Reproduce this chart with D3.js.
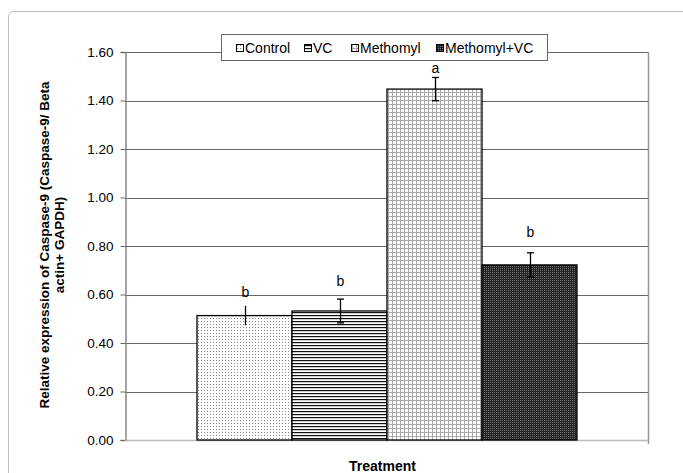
<!DOCTYPE html>
<html><head><meta charset="utf-8">
<script src="https://cdn.jsdelivr.net/npm/d3@7"></script>
<style>
body{margin:0;background:#fff;}
text{font-family:"Liberation Sans",Arial,sans-serif;}
</style></head>
<body>
<svg id="c" width="683" height="473"></svg>
<script>
const series = ["Control","VC","Methomyl","Methomyl+VC"];
const values = [0.513, 0.532, 1.447, 0.722];
const errors = [0.04, 0.049, 0.048, 0.05];
const letters = ["b","b","a","b"];
const letterAt = [0.59, 0.635, 1.513, 0.837];
const yTicks = [0,0.2,0.4,0.6,0.8,1.0,1.2,1.4,1.6];
const xTitle = "Treatment";
const yTitleLines = ["Relative expression of Caspase-9 (Caspase-9/ Beta","actin+ GAPDH)"];

const svg = d3.select("#c");
const defs = svg.append("defs");

// patterns
function pat(id,w,h){return defs.append("pattern").attr("id",id).attr("patternUnits","userSpaceOnUse").attr("width",w).attr("height",h);}
let p = pat("p0",3,3); p.append("rect").attr("width",3).attr("height",3).attr("fill","#fff");
p.append("rect").attr("x",0).attr("y",0).attr("width",1).attr("height",1).attr("fill","#888");
p = pat("p1",3,3); p.append("rect").attr("width",3).attr("height",3).attr("fill","#fff");
p.append("rect").attr("x",0).attr("y",0).attr("width",3).attr("height",1.2).attr("fill","#111");
p = pat("p2",4,4); p.append("rect").attr("width",4).attr("height",4).attr("fill","#fff");
p.append("rect").attr("x",0).attr("y",0).attr("width",4).attr("height",1).attr("fill","#aaa");
p.append("rect").attr("x",0).attr("y",0).attr("width",1).attr("height",4).attr("fill","#aaa");
p = pat("p3",2,2); p.append("rect").attr("width",2).attr("height",2).attr("fill","#222");
p.append("rect").attr("x",0).attr("y",0).attr("width",1).attr("height",1).attr("fill","#777");
const fills = ["url(#p0)","url(#p1)","url(#p2)","url(#p3)"];

// outer frame
svg.append("rect").attr("x",8.5).attr("y",11.5).attr("width",700).attr("height",500).attr("rx",5)
  .attr("fill","none").attr("stroke","#bbb");

const L=125, R=648, T=52, B=440;
const y = d3.scaleLinear().domain([0,1.6]).range([B,T]);
const x = d3.scaleBand().domain(series).range([197,577]).padding(0);

// gridlines
svg.append("g").selectAll("line").data(yTicks.slice(1)).join("line")
  .attr("x1",L).attr("x2",R).attr("y1",d=>Math.round(y(d))+0.5).attr("y2",d=>Math.round(y(d))+0.5)
  .attr("stroke","#666").attr("stroke-width",1);
// right border
svg.append("line").attr("x1",R+0.5).attr("x2",R+0.5).attr("y1",T).attr("y2",B+4).attr("stroke","#999").attr("stroke-width",1.5);

// y axis
const ya = svg.append("g").attr("transform",`translate(${L+0.5},0)`)
  .call(d3.axisLeft(y).tickValues(yTicks).tickFormat(d3.format(".2f")).tickSize(5).tickPadding(7));
ya.select(".domain").attr("stroke","#888").attr("stroke-width",1.5);
ya.selectAll(".tick line").attr("stroke","#666");
ya.selectAll(".tick text").attr("font-size",13.5).attr("fill","#000").attr("font-family","Liberation Sans, Arial, sans-serif");
// bottom axis line
svg.append("line").attr("x1",L).attr("x2",R).attr("y1",B+0.5).attr("y2",B+0.5).attr("stroke","#bbb").attr("stroke-width",1.5);

// bars
svg.append("g").selectAll("rect").data(values).join("rect")
  .attr("x",(d,i)=>x(series[i])).attr("y",d=>y(d)).attr("width",x.bandwidth()).attr("height",d=>B-y(d))
  .attr("fill",(d,i)=>fills[i]).attr("stroke","#000").attr("stroke-width",1.3);

// error bars
const caps=[false,true,true,true];
const eg = svg.append("g").attr("stroke","#000").attr("stroke-width",1.3);
values.forEach((v,i)=>{
  const cx = Math.round(x(series[i])+x.bandwidth()/2)+0.5;
  eg.append("line").attr("x1",cx).attr("x2",cx).attr("y1",y(v+errors[i])).attr("y2",y(v-errors[i]));
  if(caps[i]){
    [v+errors[i],v-errors[i]].forEach(e=>eg.append("line").attr("x1",cx-3.5).attr("x2",cx+3.5).attr("y1",y(e)).attr("y2",y(e)));
  }
  svg.append("text").attr("x",cx).attr("y",y(letterAt[i])).attr("text-anchor","middle")
    .attr("font-size",14).text(letters[i]);
});

// legend
const lg = svg.append("g");
lg.append("rect").attr("x",221.5).attr("y",34.5).attr("width",326).attr("height",26).attr("fill","#fff").attr("stroke","#666");
const lx=[236,304,351,436];
series.forEach((s,i)=>{
  lg.append("rect").attr("x",lx[i]+0.5).attr("y",44.5).attr("width",7).attr("height",7).attr("fill",fills[i]).attr("stroke","#000");
  lg.append("text").attr("x",lx[i]+9).attr("y",52.5).attr("font-size",14).text(s);
});

// titles
svg.append("text").attr("x",(L+R)/2-4).attr("y",471).attr("text-anchor","middle")
  .attr("font-size",14).attr("font-weight","bold").text(xTitle);
yTitleLines.forEach((t,i)=>{
  svg.append("text").attr("transform",`translate(${49+i*15},${245}) rotate(-90)`).attr("text-anchor","middle")
    .attr("font-size",13.5).attr("font-weight","bold").text(t);
});
</script>
</body></html>
